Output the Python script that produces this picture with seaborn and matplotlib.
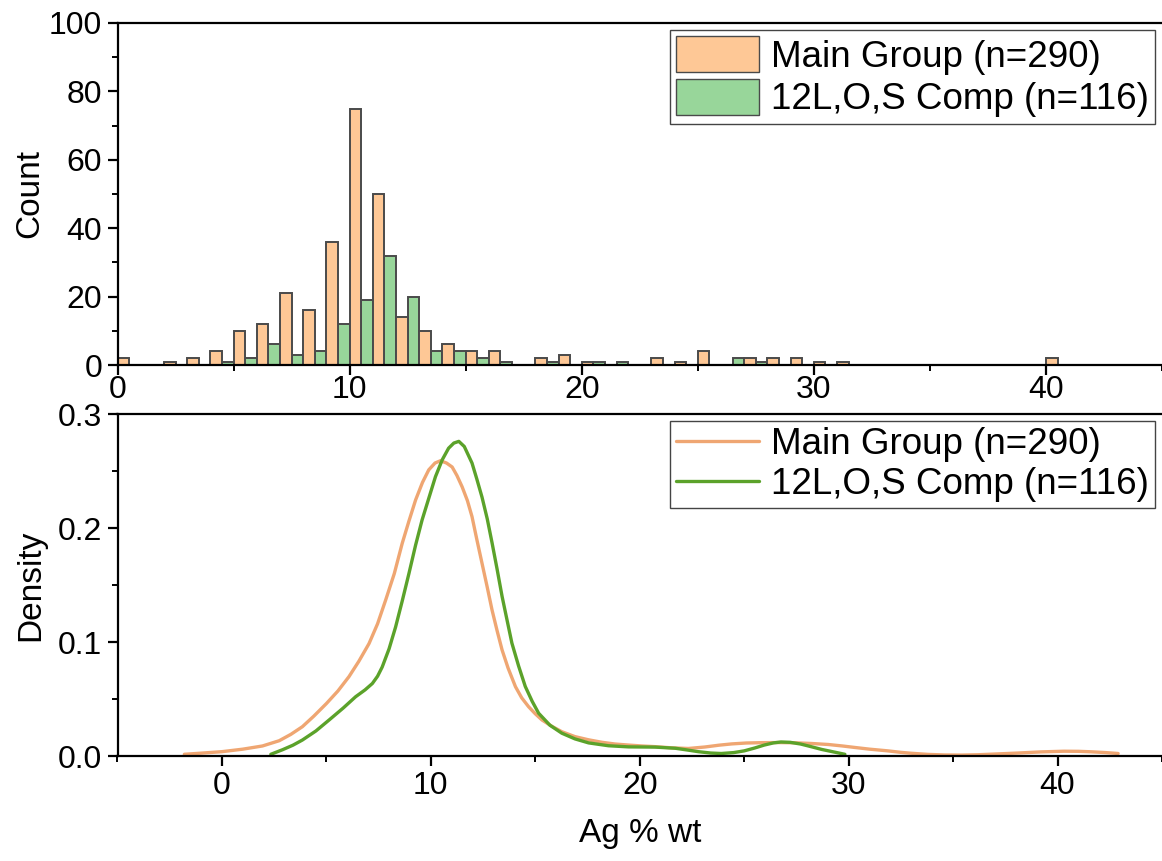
import numpy as np
import pandas as pd
import matplotlib
matplotlib.use("Agg")
import matplotlib.pyplot as plt
from matplotlib.patches import Patch
from matplotlib.lines import Line2D
from matplotlib.ticker import MultipleLocator
import seaborn as sns

# ---------------- data ----------------
groups = ["Main Group (n=290)", "12L,O,S Comp (n=116)"]

main_bin = [0, 2, 3, 4, 5, 6, 7, 8, 9, 10, 11, 12, 13, 14, 15, 16, 18, 19, 20,
            23, 24, 25, 27, 28, 29, 30, 31, 40]
main_cnt = [2, 1, 2, 4, 10, 12, 21, 16, 36, 75, 50, 14, 10, 6, 4, 4, 2, 3, 1,
            2, 1, 4, 2, 2, 2, 1, 1, 2]

comp_bin = [4, 5, 6, 7, 8, 9, 10, 11, 12, 13, 14, 15, 16, 18, 20, 21, 26, 27]
comp_cnt = [1, 2, 6, 3, 4, 12, 19, 32, 20, 4, 4, 2, 1, 1, 1, 1, 2, 1]

main_kde_x = [-1.8, -1.0, 0.0, 1.0, 1.94, 2.74, 3.3, 3.85, 4.4, 5.0, 5.55, 6.08,
              6.55, 7.04, 7.45, 7.84, 8.25, 8.63, 8.95, 9.27, 9.6, 9.9, 10.2,
              10.46, 10.75, 11.02, 11.25, 11.5, 11.75, 11.97, 12.2, 12.45, 12.7,
              12.93, 13.17, 13.41, 13.7, 14.05, 14.35, 14.68, 15.0, 15.32, 15.8,
              16.27, 16.9, 17.55, 18.2, 18.82, 19.46, 20.1, 20.74, 21.5, 22.33,
              23.12, 23.8, 24.4, 25.1, 25.83, 26.6, 27.42, 28.2, 29.02, 29.7,
              30.29, 31.0, 31.88, 32.5, 33.0, 33.8, 34.6, 35.4, 36.2, 37.1, 38.1,
              39.2, 40.3, 41.0, 41.6, 42.3, 42.9]
main_kde_y = [0.0015, 0.0025, 0.0038, 0.0060, 0.0088, 0.0134, 0.019, 0.0257,
              0.035, 0.046, 0.057, 0.0696, 0.083, 0.0986, 0.116, 0.137, 0.160,
              0.1866, 0.206, 0.2246, 0.240, 0.251, 0.257, 0.259, 0.257, 0.2535,
              0.246, 0.236, 0.224, 0.210, 0.190, 0.169, 0.148, 0.128, 0.110,
              0.093, 0.077, 0.0608, 0.051, 0.0432, 0.037, 0.0316, 0.026, 0.0213,
              0.017, 0.0142, 0.012, 0.0105, 0.0096, 0.0088, 0.0082, 0.0072,
              0.0066, 0.0079, 0.0095, 0.0106, 0.0114, 0.0117, 0.0118, 0.0116,
              0.011, 0.0101, 0.0088, 0.0075, 0.006, 0.0045, 0.0032, 0.0024,
              0.0014, 0.0009, 0.0008, 0.0011, 0.0018, 0.0026, 0.0036, 0.0042,
              0.0041, 0.0037, 0.003, 0.0022]

comp_kde_x = [2.34, 2.9, 3.4, 3.85, 4.5, 5.13, 5.8, 6.4, 6.85, 7.2, 7.45, 7.67,
              8.0, 8.31, 8.63, 8.95, 9.27, 9.58, 9.9, 10.22, 10.55, 10.85, 11.1,
              11.34, 11.6, 11.97, 12.2, 12.45, 12.7, 12.93, 13.17, 13.41, 13.65,
              13.88, 14.2, 14.52, 14.85, 15.16, 15.7, 16.27, 16.9, 17.55, 18.5,
              19.46, 20.74, 21.7, 22.3, 22.8, 23.4, 23.9, 24.5, 25.0, 25.5,
              25.96, 26.4, 26.76, 27.2, 27.7, 28.2, 28.7, 29.3, 29.82]
comp_kde_y = [0.0015, 0.0055, 0.0095, 0.014, 0.022, 0.0316, 0.042, 0.052, 0.058,
              0.0636, 0.070, 0.078, 0.094, 0.113, 0.136, 0.160, 0.185, 0.207,
              0.226, 0.245, 0.260, 0.270, 0.2745, 0.276, 0.2715, 0.257, 0.243,
              0.227, 0.208, 0.187, 0.164, 0.140, 0.119, 0.099, 0.079, 0.061,
              0.048, 0.0375, 0.027, 0.020, 0.015, 0.0115, 0.009, 0.008, 0.0078,
              0.0068, 0.0052, 0.0038, 0.0026, 0.0022, 0.003, 0.0045, 0.007,
              0.0096, 0.0115, 0.0123, 0.012, 0.0105, 0.0082, 0.0058, 0.0035,
              0.0015]

# ---------------- styling ----------------
sns.set_theme(style="ticks")
plt.rcParams["font.family"] = ["Liberation Sans", "DejaVu Sans"]
plt.rcParams["text.color"] = "black"
plt.rcParams["axes.labelcolor"] = "black"
plt.rcParams["xtick.color"] = "black"
plt.rcParams["ytick.color"] = "black"

bar_colors = {groups[0]: "#FEC896", groups[1]: "#98D69A"}
line_colors = {groups[0]: "#EFA672", groups[1]: "#5BA22A"}

hist_df = pd.DataFrame({
    "value": [b + 0.5 for b in main_bin] + [b + 0.5 for b in comp_bin],
    "count": main_cnt + comp_cnt,
    "group": [groups[0]] * len(main_bin) + [groups[1]] * len(comp_bin),
})
kde_df = pd.DataFrame({
    "x": main_kde_x + comp_kde_x,
    "y": main_kde_y + comp_kde_y,
    "group": [groups[0]] * len(main_kde_x) + [groups[1]] * len(comp_kde_x),
})

W, H = 1162, 861
fig = plt.figure(figsize=(W / 100, H / 100), dpi=100)
ax1 = fig.add_axes([117.5 / W, 1 - 365 / H, 1 - 117.5 / W, (365 - 23) / H])
ax2 = fig.add_axes([117.5 / W, 1 - 756 / H, 1 - 117.5 / W, (756 - 414) / H])

tick_fs = 23
label_fs = 24
leg_fs = 26.5

# ---------------- top histogram ----------------
sns.histplot(data=hist_df, x="value", weights="count", hue="group",
             hue_order=groups, binwidth=1, binrange=(0, 41), multiple="dodge",
             shrink=1, palette=bar_colors, alpha=1, edgecolor="#4a4a4a",
             linewidth=1.4, legend=False, ax=ax1)
ax1.set_xlim(0, 45)
ax1.set_ylim(0, 100)
ax1.set_xlabel("")
ax1.set_ylabel("Count", fontsize=label_fs, labelpad=3, color="black")
ax1.xaxis.set_major_locator(MultipleLocator(10))
ax1.xaxis.set_minor_locator(MultipleLocator(5))
ax1.yaxis.set_major_locator(MultipleLocator(20))
ax1.yaxis.set_minor_locator(MultipleLocator(10))

leg1 = ax1.legend(
    handles=[Patch(facecolor=bar_colors[g], edgecolor="#4a4a4a", linewidth=1.0)
             for g in groups],
    labels=groups, loc="upper right", fontsize=leg_fs, frameon=True,
    fancybox=False, framealpha=1, edgecolor="#444444",
    handlelength=2.25, handleheight=1.12, labelspacing=0.12,
    borderpad=0.18, handletextpad=0.32, borderaxespad=0.18)
leg1.get_frame().set_linewidth(1.0)
for t in leg1.get_texts():
    t.set_color("black")

# ---------------- bottom KDE ----------------
sns.lineplot(data=kde_df, x="x", y="y", hue="group", hue_order=groups,
             palette=line_colors, linewidth=2.4, sort=False, estimator=None,
             legend=False, ax=ax2)
ax2.set_xlim(-5, 45)
ax2.set_ylim(0, 0.3)
ax2.set_xlabel("Ag % wt", fontsize=label_fs, labelpad=12, color="black")
ax2.set_ylabel("Density", fontsize=label_fs, labelpad=8, color="black")
ax2.xaxis.set_major_locator(MultipleLocator(10))
ax2.xaxis.set_minor_locator(MultipleLocator(5))
ax2.yaxis.set_major_locator(MultipleLocator(0.1))
ax2.yaxis.set_minor_locator(MultipleLocator(0.05))
ax2.yaxis.set_major_formatter(matplotlib.ticker.FormatStrFormatter("%.1f"))

leg2 = ax2.legend(
    handles=[Line2D([0], [0], color=line_colors[g], linewidth=2.4) for g in groups],
    labels=groups, loc="upper right", fontsize=leg_fs, frameon=True,
    fancybox=False, framealpha=1, edgecolor="#444444",
    handlelength=2.25, labelspacing=0.12, borderpad=0.18,
    handletextpad=0.32, borderaxespad=0.18)
leg2.get_frame().set_linewidth(1.0)
for t in leg2.get_texts():
    t.set_color("black")

for ax in (ax1, ax2):
    for side in ("left", "bottom", "top"):
        ax.spines[side].set_visible(True)
        ax.spines[side].set_linewidth(1.6)
        ax.spines[side].set_color("black")
    ax.spines["right"].set_visible(False)
    ax.tick_params(axis="both", which="major", direction="out", length=7,
                   width=1.6, labelsize=tick_fs, color="black",
                   labelcolor="black", pad=4)
    ax.tick_params(axis="both", which="minor", direction="out", length=4,
                   width=1.4, color="black")
    ax.tick_params(top=False, right=False, which="both")
ax1.tick_params(axis="x", which="major", pad=0)

fig.savefig("out.png", dpi=100)
